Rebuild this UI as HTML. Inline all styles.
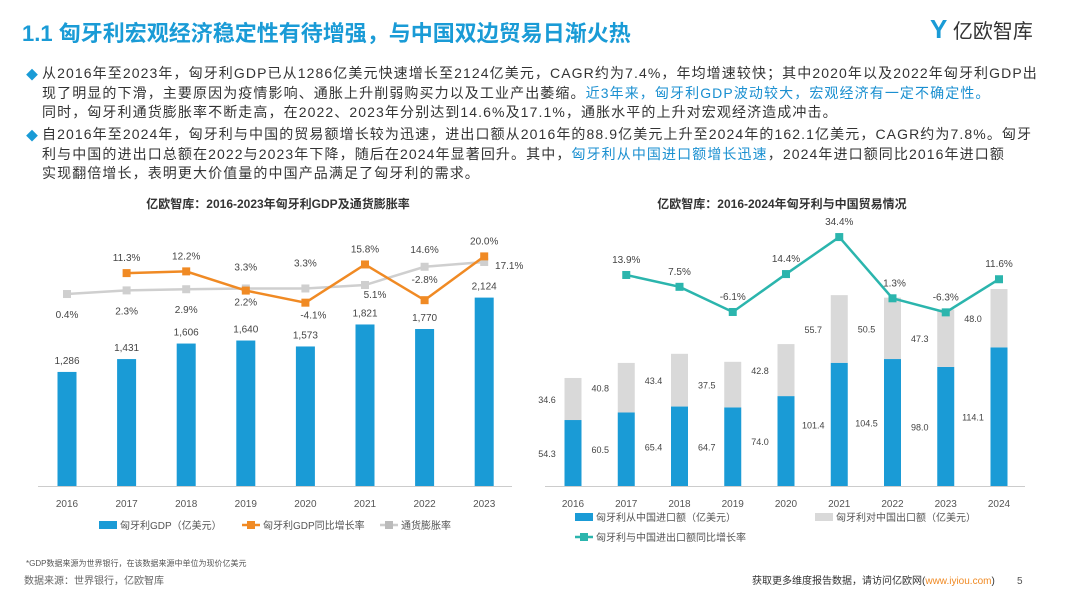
<!DOCTYPE html>
<html><head><meta charset="utf-8">
<style>
body{margin:0;width:1067px;height:600px;background:#fff;font-family:"Liberation Sans","Noto Sans CJK SC",sans-serif;position:relative;overflow:hidden;color:#333}
.t{position:absolute;white-space:nowrap}
#title{left:22px;top:16px;font-size:22px;font-weight:bold;color:#1a9bd6}
.p{position:absolute;left:42px;font-size:14px;line-height:19.5px;color:#333;white-space:nowrap;letter-spacing:1.1px}
.d{position:absolute;left:26px;color:#1a9bd6;font-size:12px}
.hl{color:#1a8fd0}
</style></head><body>
<div class="t" id="title">1.1 匈牙利宏观经济稳定性有待增强，与中国双边贸易日渐火热</div>
<div class="t" style="left:930px;top:14px;font-size:20px;color:#333"><span style="color:#1a9bd6;font-weight:bold;font-size:26px">Y</span> 亿欧智库</div>
<div class="d" style="top:66px">◆</div>
<div class="p" style="top:64px">从2016年至2023年，匈牙利GDP已从1286亿美元快速增长至2124亿美元，CAGR约为7.4%，年均增速较快；其中2020年以及2022年匈牙利GDP出<br>现了明显的下滑，主要原因为疫情影响、通胀上升削弱购买力以及工业产出萎缩。<span class="hl">近3年来，匈牙利GDP波动较大，宏观经济有一定不确定性。</span><br>同时，匈牙利通货膨胀率不断走高，在2022、2023年分别达到14.6%及17.1%，通胀水平的上升对宏观经济造成冲击。</div>
<div class="d" style="top:127px">◆</div>
<div class="p" style="top:125px">自2016年至2024年，匈牙利与中国的贸易额增长较为迅速，进出口额从2016年的88.9亿美元上升至2024年的162.1亿美元，CAGR约为7.8%。匈牙<br>利与中国的进出口总额在2022与2023年下降，随后在2024年显著回升。其中，<span class="hl">匈牙利从中国进口额增长迅速</span>，2024年进口额同比2016年进口额<br>实现翻倍增长，表明更大价值量的中国产品满足了匈牙利的需求。</div>

<svg id="chart" width="1067" height="600" style="position:absolute;left:0;top:0" font-family="Liberation Sans, Noto Sans CJK SC, sans-serif">
<text x="278" y="208" text-anchor="middle" font-size="12" font-weight="bold" fill="#333">亿欧智库：2016-2023年匈牙利GDP及通货膨胀率</text>
<text x="782" y="208" text-anchor="middle" font-size="12" font-weight="bold" fill="#333">亿欧智库：2016-2024年匈牙利与中国贸易情况</text>
<g id="L"></g><g id="R"></g>
<g font-size="10" fill="#555">
<rect x="99" y="521" width="18" height="8" fill="#1a9bd6"/><text x="120" y="529">匈牙利GDP（亿美元）</text>
<line x1="242" y1="525" x2="260" y2="525" stroke="#f08a24" stroke-width="2.5"/><rect x="247" y="521" width="8" height="8" fill="#f08a24"/><text x="263" y="529">匈牙利GDP同比增长率</text>
<line x1="380" y1="525" x2="398" y2="525" stroke="#ccc" stroke-width="2.5"/><rect x="385" y="521" width="8" height="8" fill="#bbb"/><text x="401" y="529">通货膨胀率</text>
<rect x="575" y="513" width="18" height="8" fill="#1a9bd6"/><text x="596" y="521">匈牙利从中国进口额（亿美元）</text>
<rect x="815" y="513" width="18" height="8" fill="#d9d9d9"/><text x="836" y="521">匈牙利对中国出口额（亿美元）</text>
<line x1="575" y1="537" x2="593" y2="537" stroke="#2bb5ad" stroke-width="2.5"/><rect x="580" y="533" width="8" height="8" fill="#2bb5ad"/><text x="596" y="541">匈牙利与中国进出口额同比增长率</text>
</g>
<text x="26" y="566" font-size="8" fill="#555">*GDP数据来源为世界银行，在该数据来源中单位为现价亿美元</text>
<text x="24" y="584" font-size="10" fill="#666">数据来源：世界银行，亿欧智库</text>
<text x="752" y="584" font-size="10" fill="#333">获取更多维度报告数据，请访问亿欧网(<tspan fill="#f08a24">www.iyiou.com</tspan>)</text>
<text x="1017" y="584" font-size="10" fill="#555">5</text>
</svg>
<script>
const gdpYears=["2016","2017","2018","2019","2020","2021","2022","2023"];
const gdpValues=[1286,1431,1606,1640,1573,1821,1770,2124];
const gdpLabels=["1,286","1,431","1,606","1,640","1,573","1,821","1,770","2,124"];
const gdpGrowth=[null,11.3,12.2,2.2,-4.1,15.8,-2.8,20.0];
const inflation=[0.4,2.3,2.9,3.3,3.3,5.1,14.6,17.1];
const tradeYears=["2016","2017","2018","2019","2020","2021","2022","2023","2024"];
const imports=[54.3,60.5,65.4,64.7,74.0,101.4,104.5,98.0,114.1];
const exports=[34.6,40.8,43.4,37.5,42.8,55.7,50.5,47.3,48.0];
const tradeGrowth=[null,13.9,7.5,-6.1,14.4,34.4,1.3,-6.3,11.6];
const NS="http://www.w3.org/2000/svg";
function mk(p,tag,a,txt){const e=document.createElementNS(NS,tag);for(const k in a)e.setAttribute(k,a[k]);if(txt!=null)e.textContent=txt;p.appendChild(e);return e;}
const base=486;
const L=document.getElementById('L');
const lx=i=>67+i*59.6, ly=v=>base-v*0.0887, lp=v=>294.8-1.92*v;
mk(L,'line',{x1:38,x2:512,y1:base+0.5,y2:base+0.5,stroke:'#ccc'});
gdpValues.forEach((v,i)=>{
 const b=mk(L,'rect',{x:lx(i)-9.5,y:ly(v),width:19,height:base-ly(v),fill:'#1a9bd6'});
 
 
 mk(L,'text',{x:lx(i),y:ly(v)-8,'text-anchor':'middle','font-size':10,fill:'#444'},gdpLabels[i]);
 mk(L,'text',{x:lx(i),y:507,'text-anchor':'middle','font-size':10,fill:'#555'},gdpYears[i]);
});
function line(p,xs,vals,yf,col,name){
 const pts=[];vals.forEach((v,i)=>{if(v!=null)pts.push([xs(i),yf(v)]);});
 const pl=mk(p,'polyline',{points:pts.map(q=>q.join(',')).join(' '),fill:'none',stroke:col,'stroke-width':2.5});
 
 
 pts.forEach(q=>mk(p,'rect',{x:q[0]-4,y:q[1]-4,width:8,height:8,fill:col}));
}
line(L,lx,inflation,lp,'#cfcfcf','inflation-line');
line(L,lx,gdpGrowth,lp,'#f08a24','gdp-growth-line');
inflation.forEach((v,i)=>{
 const above=(i>=6)||(i==3)||(i==4);
 let x=lx(i),y=above?lp(v)-14:lp(v)+24;
 if(i==7){x=lx(i)+25;y=lp(v)+7;}
 if(i==5){y=lp(v)+13;x=lx(i)+10;}
 if(i==3)y=lp(v)-18; if(i==4)y=lp(v)-22;
 mk(L,'text',{x:x,y:y,'text-anchor':'middle','font-size':10,fill:'#444'},v.toFixed(1)+'%');
});
gdpGrowth.forEach((v,i)=>{ if(v==null)return;
 const below=v<0||i==3;
 let y=below?lp(v)+16:lp(v)-12; if(i==3)y=lp(v)+15;
 if(i==6)y=lp(v)-17;
 mk(L,'text',{x:lx(i)+(i==4?8:0),y:y,'text-anchor':'middle','font-size':10,fill:'#444'},v.toFixed(1)+'%');
});
const R=document.getElementById('R');
const rx=i=>573+i*53.25, ry=v=>v*1.215, rp=v=>300.7-1.85*v;
mk(R,'line',{x1:545,x2:1025,y1:base+0.5,y2:base+0.5,stroke:'#ccc'});
imports.forEach((v,i)=>{
 const h1=ry(v),h2=ry(exports[i]);
 const b=mk(R,'rect',{x:rx(i)-8.5,y:base-h1,width:17,height:h1,fill:'#1a9bd6'});
 
 
 const g=mk(R,'rect',{x:rx(i)-8.5,y:base-h1-h2,width:17,height:h2,fill:'#d9d9d9'});
 
 
 mk(R,'text',{x:rx(i)-26,y:base-h1/2+4,'text-anchor':'middle','font-size':9,fill:'#444'},v.toFixed(1));
 mk(R,'text',{x:rx(i)-26,y:base-h1-h2/2+4,'text-anchor':'middle','font-size':9,fill:'#444'},exports[i].toFixed(1));
 mk(R,'text',{x:rx(i),y:507,'text-anchor':'middle','font-size':10,fill:'#555'},tradeYears[i]);
});
line(R,rx,tradeGrowth,rp,'#2bb5ad','trade-growth-line');
tradeGrowth.forEach((v,i)=>{ if(v==null)return;
 mk(R,'text',{x:rx(i)+(i==6?2:0),y:rp(v)-12,'text-anchor':'middle','font-size':10,fill:'#444'},v.toFixed(1)+'%');
});
</script>
</body></html>
